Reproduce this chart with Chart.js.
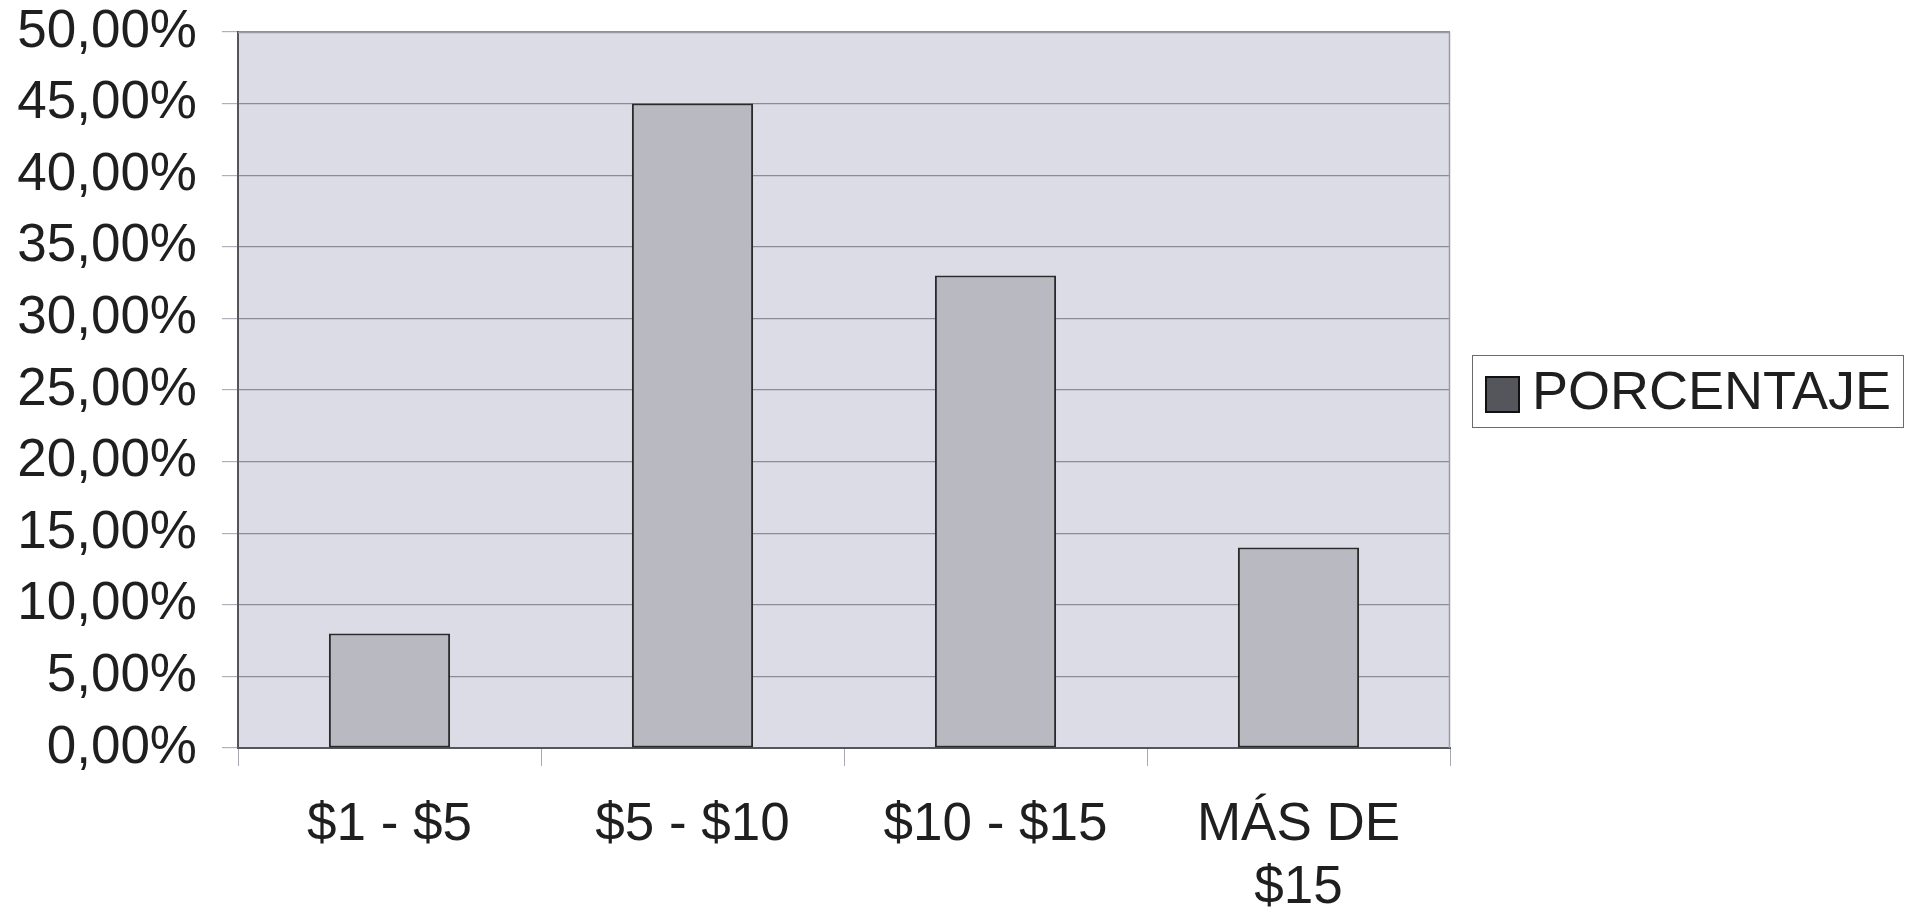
<!DOCTYPE html>
<html>
<head>
<meta charset="utf-8">
<script src="https://cdn.jsdelivr.net/npm/chart.js@4"></script>
<style>
  html, body { margin: 0; padding: 0; background: #fff; }
  #wrap { width: 1914px; height: 913px; }
</style>
</head>
<body>
<div id="wrap"><canvas id="precioChart" width="1914" height="913"></canvas></div>
<script>
const categorias = [['$1 - $5'], ['$5 - $10'], ['$10 - $15'], ['MÁS DE', '$15']];
const porcentaje = [8, 45, 33, 14];
const serieNombre = 'PORCENTAJE';

const FONT = '"Liberation Sans", Arial, sans-serif';
const TEXT = '#1f1f1f';

// plot area background, frame and the boxed legend on the right
const marco = {
  id: 'marco',
  beforeDraw(chart) {
    const { ctx, chartArea: a } = chart;
    ctx.save();
    ctx.fillStyle = '#dcdce7';
    ctx.fillRect(a.left, a.top, a.right - a.left, a.bottom - a.top);
    ctx.restore();
  },
  afterDatasetsDraw(chart) {
    const { ctx, chartArea: a } = chart;
    ctx.save();
    ctx.strokeStyle = '#9a9aa6';
    ctx.lineWidth = 1.5;
    ctx.beginPath();
    ctx.moveTo(a.left, a.top + 0.5);
    ctx.lineTo(a.right - 0.5, a.top + 0.5);
    ctx.lineTo(a.right - 0.5, a.bottom);
    ctx.stroke();
    ctx.restore();
  },
  afterDraw(chart) {
    const { ctx, chartArea: a } = chart;
    const x = a.right + 22, y = 355, w = 431, h = 72;
    ctx.save();
    ctx.fillStyle = '#fff';
    ctx.fillRect(x, y, w, h);
    ctx.strokeStyle = '#6a6a6a';
    ctx.lineWidth = 1;
    ctx.strokeRect(x + 0.5, y + 0.5, w, h);
    ctx.fillStyle = '#55555c';
    ctx.fillRect(x + 14, y + 22, 33, 35);
    ctx.strokeStyle = '#111';
    ctx.lineWidth = 2;
    ctx.strokeRect(x + 14, y + 22, 33, 35);
    ctx.fillStyle = TEXT;
    ctx.font = '54px ' + FONT;
    ctx.textBaseline = 'middle';
    ctx.fillText(serieNombre, x + 60, y + 39);
    ctx.restore();
  }
};

const ctx = document.getElementById('precioChart').getContext('2d');
const precioChart = new Chart(ctx, {
  type: 'bar',
  data: {
    labels: categorias,
    datasets: [{
      label: serieNombre,
      data: porcentaje,
      backgroundColor: '#b9b9c2',
      borderColor: '#2a2a2a',
      borderWidth: 2,
      borderSkipped: false,
      barPercentage: 0.4,
      categoryPercentage: 1,
    }]
  },
  options: {
    responsive: false,
    animation: false,
    layout: { padding: { top: 32, right: 464, bottom: 0, left: 0 } },
    plugins: {
      legend: { display: false },
      tooltip: { enabled: false },
    },
    scales: {
      x: {
        grid: {
          offset: true,
          drawOnChartArea: false,
          drawTicks: true,
          tickLength: 18,
          color: '#a8a8b0',
        },
        border: { color: '#55555c', width: 2 },
        ticks: {
          color: TEXT,
          font: { family: FONT, size: 53, lineHeight: 1.19 },
          padding: 28,
          maxRotation: 0,
          autoSkip: false,
        },
        afterFit(scale) {
          scale.height = 165;
          scale.paddingLeft = 0;
          scale.paddingRight = 0;
        },
      },
      y: {
        min: 0,
        max: 50,
        grid: {
          color: '#8c8c98',
          lineWidth: 1.2,
          tickLength: 16,
          tickColor: '#b0b0b8',
        },
        border: { color: '#55555c', width: 2 },
        ticks: {
          stepSize: 5,
          color: TEXT,
          font: { family: FONT, size: 53 },
          padding: 25,
          callback: v => v.toFixed(2).replace('.', ',') + '%',
        },
        afterFit(scale) {
          scale.width = 238;
          scale.paddingTop = 0;
          scale.paddingBottom = 0;
        },
      },
    },
  },
  plugins: [marco],
});
</script>
</body>
</html>
